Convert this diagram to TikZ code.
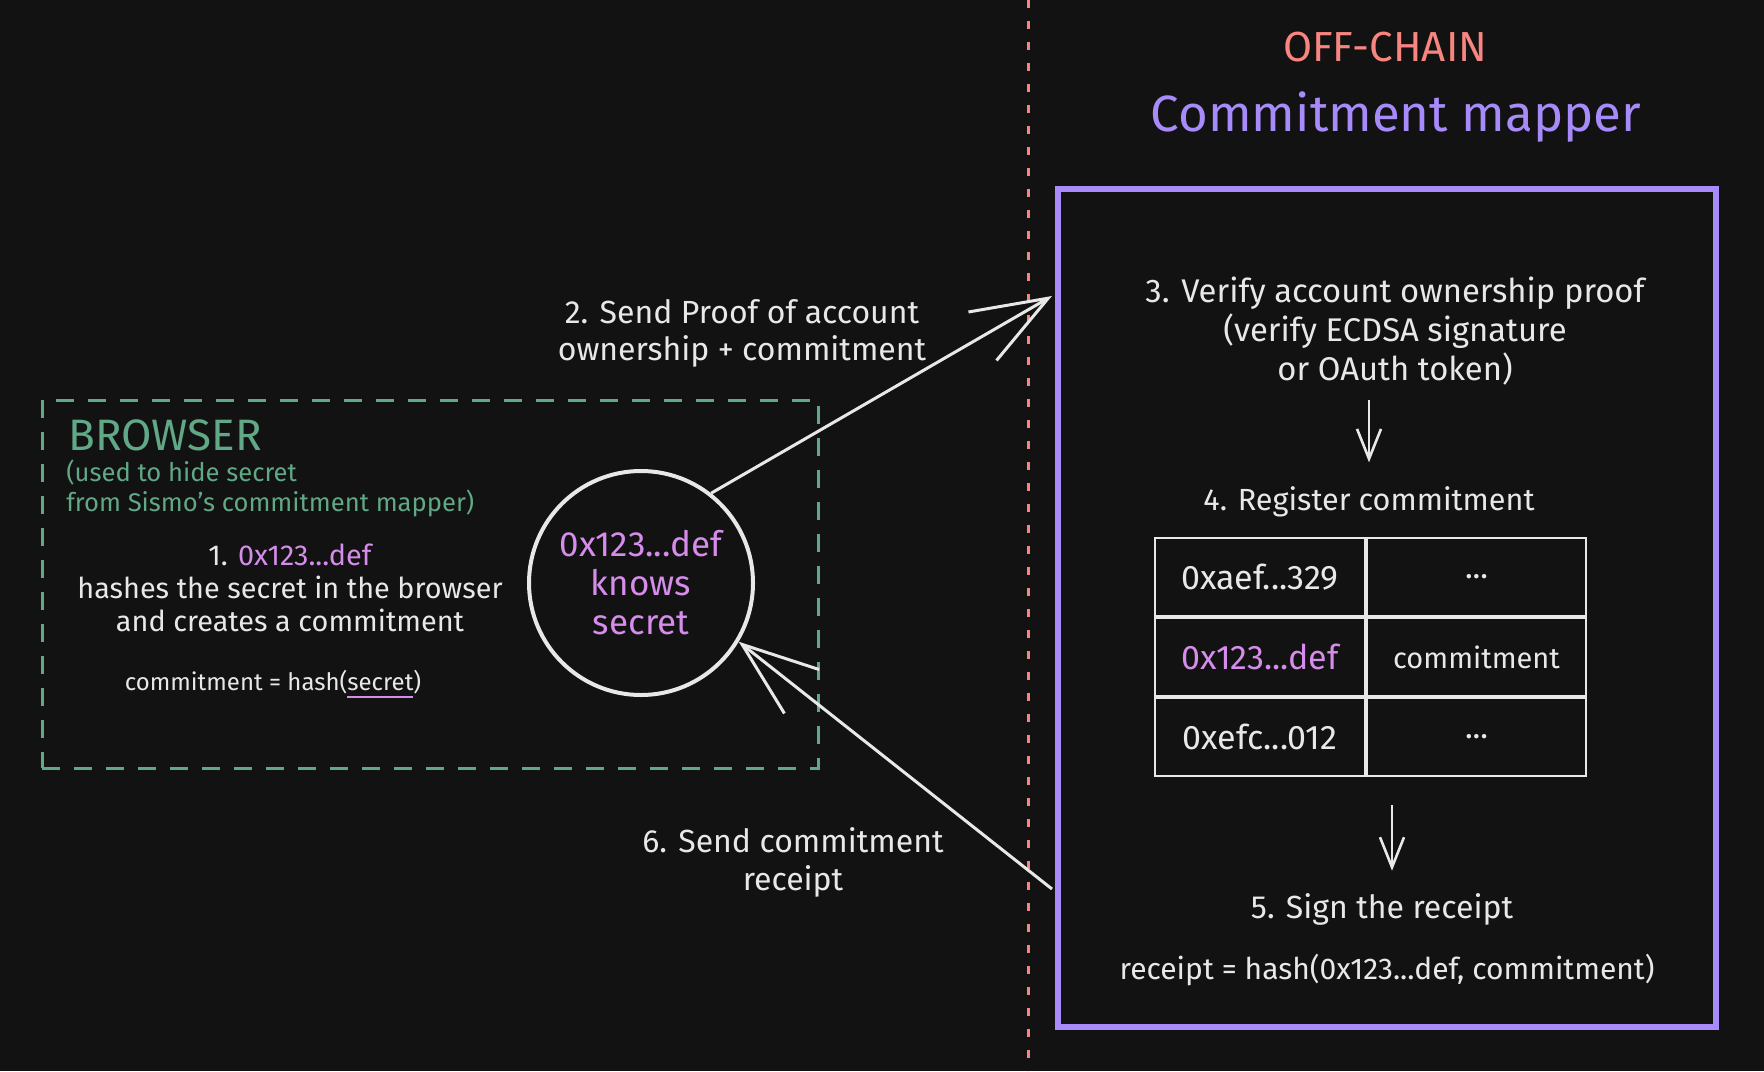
\documentclass[tikz,border=0pt]{standalone}
\usepackage{fontspec}
\setmainfont{Fira Sans}
\usetikzlibrary{arrows.meta,positioning,calc}
\definecolor{BgClr}{HTML}{121212}
\definecolor{InkClr}{HTML}{E8E8E8}
\definecolor{SalmonClr}{HTML}{F88580}
\definecolor{MapperClr}{HTML}{A78BFA}
\definecolor{AddrClr}{HTML}{D68CEB}
\definecolor{BrowserClr}{HTML}{60A886}
\newcommand{\markul}[1]{\setbox0=\hbox{#1}\rlap{\color{AddrClr}\rule[-4pt]{\wd0}{1.2pt}}\box0}

\begin{document}
\begin{tikzpicture}[x=.5pt,y=-.5pt,
  txt/.style={text=InkClr,font=\fontsize{16}{19.5}\selectfont,align=center,inner sep=2pt},
  flow/.style={draw=InkClr,line width=1.5pt,-{Straight Barb[length=38pt,width=28pt]}},
  stepdown/.style={draw=InkClr,line width=1.3pt,-{Straight Barb[length=15pt,width=12pt]}},
  cellbox/.style={txt,draw=InkClr,line width=1pt,minimum height=39pt,inner sep=0pt}]
\fill[BgClr] (0,0) rectangle (1764,1071);
\useasboundingbox (0,0) rectangle (1764,1071);

% on-chain / off-chain divider
\draw[SalmonClr,line width=1.5pt,dash pattern=on 4pt off 6.5pt] (1028,0) -- (1028,1071);

% browser side
\node[draw=BrowserClr,line width=1.5pt,dash pattern=on 9pt off 7pt,
      minimum width=388pt,minimum height=184pt] (browser) at (430,584) {};
\node[anchor=west,text=BrowserClr,font=\fontsize{22}{26}\selectfont,inner sep=0pt]
      (browsertitle) at (68,435) {BROWSER};
\node[anchor=west,text=BrowserClr,align=left,font=\fontsize{12.8}{15}\selectfont,inner sep=0pt]
      (browsernote) at (66,488) {(used to hide secret\\from Sismo's commitment mapper)};
\node[txt,font=\fontsize{14.4}{16.5}\selectfont] (hashstep) at (290,588)
      {1. \textcolor{AddrClr}{0x123...def}\\hashes the secret in the browser\\and creates a commitment};
\node[txt,font=\fontsize{12}{15}\selectfont] (hashformula) at (273,684)
      {commitment = hash(\markul{secret})};

\node[circle,draw=InkClr,line width=2pt,minimum size=112pt,txt,text=AddrClr,
      font=\fontsize{17.5}{19.5}\selectfont] (holder) at (641,583) {0x123...def\\knows\\secret};

% commitment mapper side
\node[text=SalmonClr,font=\fontsize{21}{24}\selectfont] (offchain) at (1385,47) {OFF-CHAIN};
\node[text=MapperClr,font=\fontsize{25.5}{30}\selectfont] (mappertitle) at (1396,117) {Commitment mapper};
\node[draw=MapperClr,line width=3pt,minimum width=329pt,minimum height=419pt] (mapper) at (1387,608) {};

\node[txt,font=\fontsize{16.4}{19.5}\selectfont] (verify) at (1395,331) {3. Verify account ownership proof\\(verify ECDSA signature\\or OAuth token)};
\node[txt,font=\fontsize{15.3}{18}\selectfont] (register) at (1369,502) {4. Register commitment};

\node[cellbox,minimum width=105pt,font=\fontsize{17}{20}\selectfont] (key1) at (1260,577) {0xaef...329};
\node[cellbox,minimum width=109.5pt,right=0pt of key1] (val1) {...};
\node[cellbox,minimum width=105pt,below=0pt of key1,text=AddrClr,font=\fontsize{17}{20}\selectfont] (key2) {0x123...def};
\node[cellbox,minimum width=109.5pt,right=0pt of key2,font=\fontsize{14.5}{18}\selectfont] (val2) {commitment};
\node[cellbox,minimum width=105pt,below=0pt of key2,font=\fontsize{17}{20}\selectfont] (key3) {0xefc...012};
\node[cellbox,minimum width=109.5pt,right=0pt of key3] (val3) {...};

\node[txt,font=\fontsize{16}{18}\selectfont] (sign) at (1382,909) {5. Sign the receipt};
\node[txt,font=\fontsize{15}{17}\selectfont] (receipt) at (1387,970) {receipt = hash(0x123...def, commitment)};

\draw[stepdown,shorten <=5pt,shorten >=10pt] (register.north |- verify.south) -- (register.north);
\coordinate (signtop) at ([xshift=5pt]sign.north);
\draw[stepdown,shorten <=14pt,shorten >=9pt] (signtop |- key3.south) -- (signtop);

% messages between browser and mapper
\coordinate (proofin) at (1052,296);
\coordinate (receiptout) at (1052,889);
\draw[flow] (holder.52) -- (proofin);
\draw[flow] (receiptout) -- (holder.-31);
\node[txt,font=\fontsize{16}{18.5}\selectfont] (sendproof) at (742,333) {2. Send Proof of account\\ownership + commitment};
\node[txt,font=\fontsize{16}{19}\selectfont] (sendreceipt) at (793,862) {6. Send commitment\\receipt};

\end{tikzpicture}
\end{document}
